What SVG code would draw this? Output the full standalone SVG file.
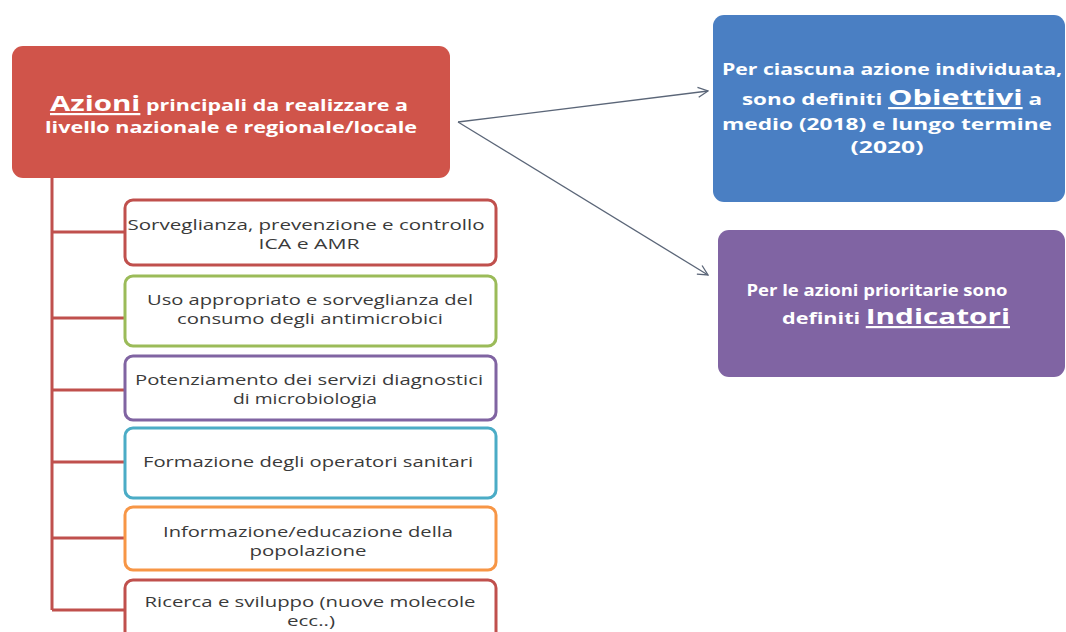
<svg xmlns="http://www.w3.org/2000/svg" width="1066" height="632" viewBox="0 0 1066 632">
<style>
.child{fill:#fff;stroke-width:3}
.ct{font-family:"Open Sans","Liberation Sans",sans-serif;font-size:14.5px;fill:#3a3a3a;text-anchor:middle}
.wt{font-family:"Open Sans","Liberation Sans",sans-serif;font-weight:bold;font-size:16px;fill:#fff;text-anchor:middle}
.big{font-size:22px;text-decoration:underline}
.tree{stroke:#c0504d;stroke-width:3;fill:none}
.arr{stroke:#5b6678;stroke-width:1.3;fill:none}
</style>
<defs>
<marker id="ah" viewBox="0 0 12 12" refX="11" refY="6" markerWidth="12" markerHeight="12" markerUnits="userSpaceOnUse" orient="auto">
<path d="M1,1 L11,6 L1,11" fill="none" stroke="#5b6678" stroke-width="1.3"/>
</marker>
</defs>
<rect width="1066" height="632" fill="#fff"/>
<g id="connectors">
<path class="tree" d="M52,178 V610 M52,232 H125 M52,318 H125 M52,390 H125 M52,462 H125 M52,538 H125 M52,610 H125"/>
<path class="arr" d="M458,122 L708,91" marker-end="url(#ah)"/>
<path class="arr" d="M458,122 L708,275" marker-end="url(#ah)"/>
</g>
<g id="azioni">
<rect x="12" y="46" width="438" height="132" rx="11" fill="#d0544a"/>
<text class="wt" x="229" y="111" textLength="358" lengthAdjust="spacingAndGlyphs"><tspan class="big">Azioni</tspan> principali da realizzare a</text>
<text class="wt" x="231" y="133" textLength="372" lengthAdjust="spacingAndGlyphs">livello nazionale e regionale/locale</text>
</g>
<g id="obiettivi">
<rect x="713" y="15" width="352" height="187" rx="11" fill="#4a7fc3"/>
<text class="wt" x="892" y="75" textLength="340" lengthAdjust="spacingAndGlyphs">Per ciascuna azione individuata,</text>
<text class="wt" x="892" y="105" textLength="300" lengthAdjust="spacingAndGlyphs">sono definiti <tspan class="big">Obiettivi</tspan> a</text>
<text class="wt" x="887" y="130" textLength="330" lengthAdjust="spacingAndGlyphs">medio (2018) e lungo termine</text>
<text class="wt" x="887" y="153" textLength="73" lengthAdjust="spacingAndGlyphs">(2020)</text>
</g>
<g id="indicatori">
<rect x="718" y="230" width="347" height="147" rx="11" fill="#8064a3"/>
<text class="wt" x="877" y="296" textLength="261" lengthAdjust="spacingAndGlyphs">Per le azioni prioritarie sono</text>
<text class="wt" x="896" y="324" textLength="228" lengthAdjust="spacingAndGlyphs">definiti <tspan class="big">Indicatori</tspan></text>
</g>
<g id="n1">
<rect class="child" x="125" y="200" width="371" height="65" rx="8" stroke="#c0504d"/>
<text class="ct" x="306" y="230" textLength="357" lengthAdjust="spacingAndGlyphs">Sorveglianza, prevenzione e controllo</text>
<text class="ct" x="309" y="249" textLength="101" lengthAdjust="spacingAndGlyphs">ICA e AMR</text>
</g>
<g id="n2">
<rect class="child" x="125" y="276" width="371" height="70" rx="8" stroke="#9bbb59"/>
<text class="ct" x="310" y="305" textLength="326" lengthAdjust="spacingAndGlyphs">Uso appropriato e sorveglianza del</text>
<text class="ct" x="310" y="324" textLength="266" lengthAdjust="spacingAndGlyphs">consumo degli antimicrobici</text>
</g>
<g id="n3">
<rect class="child" x="125" y="356" width="371" height="64" rx="8" stroke="#8064a2"/>
<text class="ct" x="309" y="385" textLength="348" lengthAdjust="spacingAndGlyphs">Potenziamento dei servizi diagnostici</text>
<text class="ct" x="305" y="404" textLength="144" lengthAdjust="spacingAndGlyphs">di microbiologia</text>
</g>
<g id="n4">
<rect class="child" x="125" y="428" width="371" height="70" rx="8" stroke="#4bacc6"/>
<text class="ct" x="308" y="467" textLength="330" lengthAdjust="spacingAndGlyphs">Formazione degli operatori sanitari</text>
</g>
<g id="n5">
<rect class="child" x="125" y="507" width="371" height="63" rx="8" stroke="#f79646"/>
<text class="ct" x="308" y="537" textLength="290" lengthAdjust="spacingAndGlyphs">Informazione/educazione della</text>
<text class="ct" x="308" y="556" textLength="117" lengthAdjust="spacingAndGlyphs">popolazione</text>
</g>
<g id="n6">
<rect class="child" x="125" y="580" width="371" height="70" rx="8" stroke="#c0504d"/>
<text class="ct" x="310" y="607" textLength="331" lengthAdjust="spacingAndGlyphs">Ricerca e sviluppo (nuove molecole</text>
<text class="ct" x="311" y="626" textLength="48" lengthAdjust="spacingAndGlyphs">ecc..)</text>
</g>
</svg>
